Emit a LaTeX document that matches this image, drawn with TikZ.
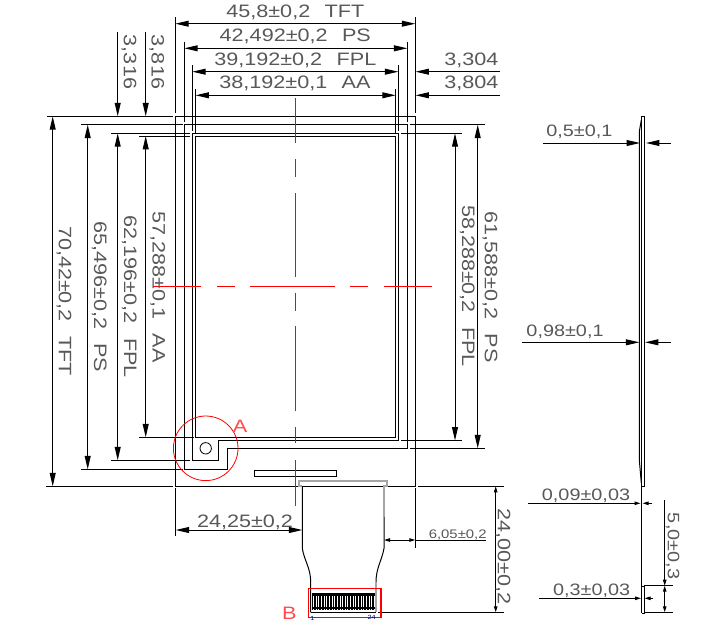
\documentclass[tikz,border=0pt]{standalone}
\usepackage{fontspec}
\setmainfont[FakeStretch=1.2]{Liberation Sans}
\usetikzlibrary{arrows.meta}
\definecolor{dimgray}{HTML}{585858}
\tikzset{
  >={Triangle[length=10pt,width=4.4pt]},
  thick line/.style={line width=0.75pt},
  dimline/.style={thick line,<->},
  tiny tip/.tip={Triangle[length=4.5pt,width=2.6pt]},
  smalldim/.style={thick line,{tiny tip}-{tiny tip}},
  dimtext/.style={text=dimgray,font=\fontsize{13.5}{14}\selectfont,inner sep=0pt},
  sidetext/.style={text=dimgray,font=\fontsize{12.4}{14}\selectfont,inner sep=0pt},
  redline/.style={red,line width=0.75pt},
  flexgray/.style={gray!70,line width=1.5pt}
}
\begin{document}
\begin{tikzpicture}[x=0.75pt,y=-0.75pt]
    \useasboundingbox (0,0) rectangle (709,643);

    % draw outlines of the panel
    \draw[thick line] (175.3,116.3) -- (415.3,116.3) -- (415.3,486.3) -- (175.3,486.3) -- cycle;
    \draw[thick line] (184.3,124.7) -- (407.3,124.7) -- (407.3,448.3) -- (227.3,448.3) -- (227.3,469.3) -- (184.3,469.3) -- cycle;
    \draw[thick line] (192.3,133.3) -- (398.3,133.3) -- (398.3,440.7) -- (218.3,440.7) -- (218.3,460.3) -- (192.3,460.3) -- cycle;
    \draw[thick line] (195.5,136) -- (395.7,136) -- (395.7,437.3) -- (195.5,437.3) -- cycle;
    \draw[line width=0.6pt] (205.7,448.3) circle (5.7);
    \draw[thick line] (254.3,470.3) rectangle (336.3,476.3);

    % draw flex cable
    \draw[flexgray] (302.3,486) -- (299.3,486) -- (299.3,480.7) -- (386.7,480.7) -- (386.7,486) -- (384,486) -- (384,517);
    \draw[thick line] (302.3,486.3) -- (302.3,548.3) .. controls (304,560) and (310.7,568) .. (310.7,582) -- (310.7,612.3);
    \draw[thick line] (384,517) -- (384,548.3) .. controls (382,560) and (376,568) .. (376,582);
    \draw[flexgray] (376,582) -- (376,612);
    \draw[thick line] (310.7,612.3) -- (376,612.3);

    % draw contacts
    \fill (311.5,593.3) rectangle (375.3,610);
    \foreach \x in {0,...,23}
      \fill[white] (313+\x*2.65,596) rectangle (313.9+\x*2.65,607);
    \foreach \x in {0,...,23}
      \fill[white] (313+\x*2.65,608.5) rectangle (313.9+\x*2.65,610);

    % draw side view
    \draw[thick line] (641.3,486) -- (641.3,116.3) -- (644.3,116.3) -- (644.3,486) -- cycle;
    \draw[thick line] (641.3,120) -- (639.3,131.7) -- (639.3,460) -- (641.3,483);
    \draw[thick line] (641.3,486) -- (641.3,613.3);
    \draw[thick line] (641.8,586) -- (644,586) -- (644,613.3) -- (641.8,613.3);

    % draw extension lines
    \foreach \xa/\ya/\yb in {175.3/17/112.7, 415.3/17/112.7, 184.3/42/122, 407.3/42/122,
                             192.3/65/131, 398.3/65/131, 195.5/89/133.5, 395.7/89/133.5,
                             175.3/488/536, 415.3/488/548.3}
      \draw[thick line] (\xa,\ya) -- (\xa,\yb);
    \foreach \ya/\xa/\xb in {116.3/47/172.7, 124.7/81/182.5, 133.3/111/190.3, 136/139/190.3,
                             437.3/139/193.5, 460.3/111/189.5, 469.3/81/182.5, 486.3/46/172.7,
                             124.7/410/485, 133.3/401/462, 440.5/401/462, 448.3/410/485,
                             486.3/418/504, 612.3/378/504, 585.7/644/672.7, 612.3/644/672.7}
      \draw[thick line] (\xa,\ya) -- (\xb,\ya);

    % draw horizontal dimensions
    \draw[dimline] (175.3,23.7) -- (415.3,23.7);
    \draw[dimline] (184.3,48.3) -- (407.3,48.3);
    \draw[dimline] (192.3,71.7) -- (398.3,71.7);
    \draw[dimline] (195.5,95.3) -- (395.7,95.3);
    \draw[thick line,->] (500,71.7) -- (415.5,71.7);
    \draw[thick line,->] (500,95.3) -- (415.5,95.3);
    \draw[dimline] (175.7,530) -- (302.3,530);
    \draw[smalldim] (384,540) -- (415.3,540);
    \draw[thick line] (415.3,540) -- (486,540);

    % draw vertical dimensions
    \foreach \x/\ya/\yb in {52.7/116.3/486.3, 87.7/124.7/469.3, 117.7/133.3/460.3, 145.7/136/437.3,
                            455/133.3/440.5, 477.7/124.7/448.3}
      \draw[dimline] (\x,\ya) -- (\x,\yb);
    \draw[thick line,->] (117.7,32) -- (117.7,116.3);
    \draw[thick line,->] (145.7,32) -- (145.7,116.3);
    \draw[smalldim] (495.7,486.3) -- (495.7,612.3);
    \draw[thick line,-{tiny tip}] (664.7,500) -- (664.7,585.7);
    \draw[smalldim] (664.7,585.7) -- (664.7,612.3);

    % draw side dimensions
    \draw[thick line,->] (543.3,143) -- (640,143);
    \draw[thick line,->] (670.7,143) -- (646,143);
    \draw[thick line,->] (521.7,342.3) -- (639.3,342.3);
    \draw[thick line,->] (670.7,342.3) -- (645,342.3);
    \draw[thick line,-{tiny tip}] (528.3,503.3) -- (640.5,503.3);
    \draw[thick line,-{tiny tip}] (652.3,503.3) -- (642.5,503.3);
    \draw[thick line,-{tiny tip}] (539.3,598.3) -- (641,598.3);
    \draw[thick line,-{tiny tip}] (653.3,598.3) -- (644.5,598.3);

    % draw center lines
    \foreach \xa/\xb in {153.3/201, 217/235, 250/335, 350/368, 384/431.7}
      \draw[redline] (\xa,286.3) -- (\xb,286.3);
    \foreach \ya/\yb in {98.3/143.3, 159/176.7, 193/276.7, 293/310.7, 326/410.7, 427.3/443.3, 460/506}
      \draw[redline] (295.3,\ya) -- (295.3,\yb);

    % draw marks A and B
    \draw[red,line width=0.6pt] (205.7,448.3) circle (32.3);
    \draw[red,line width=1pt] (308.3,588.3) rectangle (381,617.7);
    \node[dimtext,text=red!70] (markA) at (240,426) {A};
    \node[dimtext,text=red!70] (markB) at (289.3,613.3) {B};
    \node[text=blue!50!black,font=\fontsize{4.5}{5}\selectfont,inner sep=0pt] (pinfirst) at (312.3,618.3) {1};
    \node[text=blue!50!black,font=\fontsize{4.5}{5}\selectfont,inner sep=0pt] (pinlast) at (371.7,617.5) {24};

    % draw labels
    \node[dimtext] (tftwidth) at (295.3,12.3) {45,8±0,2\hspace{0.8em}TFT};
    \node[dimtext] (pswidth) at (295.3,36.7) {42,492±0,2\hspace{0.8em}PS};
    \node[dimtext] (fplwidth) at (295.3,60.7) {39,192±0,2\hspace{0.8em}FPL};
    \node[dimtext] (aawidth) at (295,83.3) {38,192±0,1\hspace{0.8em}AA};
    \node[dimtext] (fplright) at (471.3,60.7) {3,304};
    \node[dimtext] (aaright) at (471.3,83.3) {3,804};
    \node[dimtext,rotate=-90] (fpltop) at (129,62) {3,316};
    \node[dimtext,rotate=-90] (aatop) at (156.7,62) {3,816};
    \node[dimtext,rotate=-90] (tftheight) at (64,301) {70,42±0,2\hspace{0.8em}TFT};
    \node[dimtext,rotate=-90] (psheight) at (99.3,296.7) {65,496±0,2\hspace{0.8em}PS};
    \node[dimtext,rotate=-90] (fplheight) at (129.3,296.7) {62,196±0,2\hspace{0.8em}FPL};
    \node[dimtext,rotate=-90] (aaheight) at (157.7,287) {57,288±0,1\hspace{0.8em}AA};
    \node[dimtext,rotate=-90] (fplinner) at (467.3,286) {58,288±0,2\hspace{0.8em}FPL};
    \node[dimtext,rotate=-90] (psinner) at (490,287) {61,588±0,2\hspace{0.8em}PS};
    \node[dimtext] (flexleft) at (245,522) {24,25±0,2};
    \node[dimtext,font=\fontsize{9.3}{10}\selectfont] (flexright) at (457.7,535) {6,05±0,2};
    \node[dimtext,rotate=-90] (flexheight) at (503,556.7) {24,00±0,2};
    \node[sidetext] (thick) at (579.3,131.7) {0,5±0,1};
    \node[sidetext] (thicktotal) at (565,331.7) {0,98±0,1};
    \node[sidetext] (flexthin) at (586,496) {0,09±0,03};
    \node[sidetext] (flexend) at (591.7,590.7) {0,3±0,03};
    \node[sidetext,rotate=-90] (tailheight) at (672.7,546) {5,0±0,3};
\end{tikzpicture}
\end{document}
